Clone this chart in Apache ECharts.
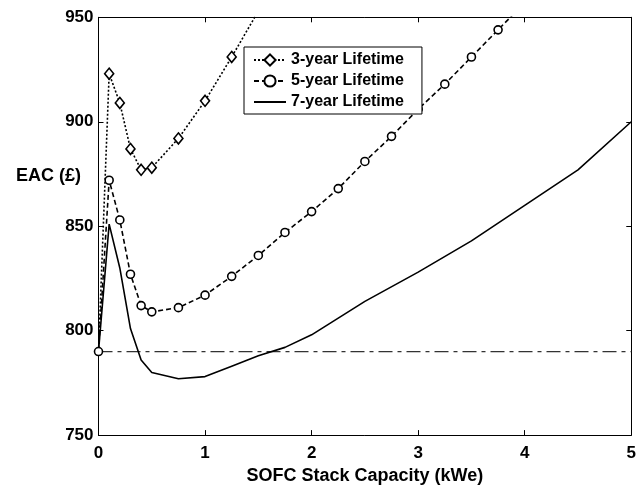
<!DOCTYPE html>
<html>
<head>
<meta charset="utf-8">
<script src="https://cdn.jsdelivr.net/npm/echarts@6/dist/echarts.min.js"></script>
<style>
html,body{margin:0;padding:0;background:#fff;}
#c{width:639px;height:490px;}
</style>
</head>
<body>
<div id="c"></div>
<script>
// Data
var seriesNames = ['3-year Lifetime', '5-year Lifetime', '7-year Lifetime'];
var cap3 = [0, 0.1, 0.2, 0.3, 0.4, 0.5, 0.75, 1.0, 1.25, 1.5];
var eac3 = [790, 923, 909, 887, 877, 878, 892, 910, 931, 953];
var cap5 = [0, 0.1, 0.2, 0.3, 0.4, 0.5, 0.75, 1.0, 1.25, 1.5, 1.75, 2.0, 2.25, 2.5, 2.75, 3.0, 3.25, 3.5, 3.75, 4.0];
var eac5 = [790, 872, 853, 827, 812, 809, 811, 817, 826, 836, 847, 857, 868, 881, 893, 906, 918, 931, 944, 957];
var cap7 = [0, 0.1, 0.2, 0.3, 0.4, 0.5, 0.75, 1.0, 1.25, 1.5, 1.75, 2.0, 2.5, 3.0, 3.5, 4.0, 4.5, 5.0];
var eac7 = [790, 851, 830, 801, 786, 780, 777, 778, 783, 788, 792, 798, 814, 828, 843, 860, 877, 900];
var refCap = [0, 5];
var refEac = [790, 790];
var xTicks = [0, 1, 2, 3, 4, 5];
var yTicks = [750, 800, 850, 900, 950];

function pairs(xs, ys) { return xs.map(function (x, i) { return [x, ys[i]]; }); }

var FONT = '"Liberation Sans", Arial, Helvetica, sans-serif';
var chart = echarts.init(document.getElementById('c'), null, { renderer: 'canvas' });

var baseX = {
  type: 'value', min: xTicks[0], max: xTicks[xTicks.length - 1], interval: 1,
  axisLine: { show: true, onZero: false, lineStyle: { color: '#000', width: 1 } },
  axisTick: { show: true, inside: true, length: 5, lineStyle: { color: '#000' } },
  splitLine: { show: false }
};
var baseY = {
  type: 'value', min: yTicks[0], max: yTicks[yTicks.length - 1], interval: 50,
  axisLine: { show: true, onZero: false, lineStyle: { color: '#000', width: 1 } },
  axisTick: { show: true, inside: true, length: 5, lineStyle: { color: '#000' } },
  splitLine: { show: false }
};

var s3data = pairs(cap3, eac3).map(function (p, i) {
  return i === 0 ? { value: p, symbol: 'none' } : p;
});

chart.setOption({
  animation: false,
  backgroundColor: '#fff',
  textStyle: { fontFamily: FONT },
  grid: { left: 98.5, right: 7.5, top: 17.3, bottom: 52.7, containLabel: false },
  xAxis: [
    Object.assign({}, baseX, {
      position: 'bottom',
      name: 'SOFC Stack Capacity (kWe)', nameLocation: 'middle', nameGap: 28,
      nameTextStyle: { fontFamily: FONT, fontWeight: 'bold', fontSize: 18, color: '#000' },
      axisLabel: { show: true, margin: 10, fontFamily: FONT, fontWeight: 'bold', fontSize: 17, color: '#000' }
    }),
    Object.assign({}, baseX, { position: 'top', axisLabel: { show: false } })
  ],
  yAxis: [
    Object.assign({}, baseY, {
      position: 'left',
      axisLabel: { show: true, margin: 5, fontFamily: FONT, fontWeight: 'bold', fontSize: 17, color: '#000' }
    }),
    Object.assign({}, baseY, { position: 'right', axisLabel: { show: false } })
  ],
  graphic: [{
    type: 'text', left: 16, top: 167,
    style: { text: 'EAC (£)', fontFamily: FONT, fontWeight: 'bold', fontSize: 18, fill: '#000' }
  }],
  legend: {
    orient: 'vertical', left: 244, top: 47,
    padding: [5, 18, 4, 9],
    itemWidth: 32, itemHeight: 14, itemGap: 5,
    backgroundColor: '#fff', borderColor: '#000', borderWidth: 1, borderRadius: 0,
    data: [
      { name: seriesNames[0] },
      { name: seriesNames[1] },
      { name: seriesNames[2], itemStyle: { opacity: 0 } }
    ],
    textStyle: { fontFamily: FONT, fontWeight: 'bold', fontSize: 16, color: '#000' }
  },
  series: [
    {
      name: seriesNames[0], type: 'line', data: s3data,
      symbol: 'diamond', symbolSize: [9, 11], showAllSymbol: true,
      lineStyle: { color: '#000', width: 1.6, type: [2, 2] },
      itemStyle: { color: '#fff', borderColor: '#000', borderWidth: 1.6 },
      z: 3
    },
    {
      name: seriesNames[1], type: 'line', data: pairs(cap5, eac5),
      symbol: 'circle', symbolSize: 8, showAllSymbol: true,
      lineStyle: { color: '#000', width: 1.6, type: [5, 3] },
      itemStyle: { color: '#fff', borderColor: '#000', borderWidth: 1.6 },
      z: 3
    },
    {
      name: seriesNames[2], type: 'line', data: pairs(cap7, eac7),
      symbol: 'none', showSymbol: false,
      lineStyle: { color: '#000', width: 1.6, type: 'solid' },
      itemStyle: { color: '#000' },
      z: 3
    },
    {
      name: 'ref', type: 'line', data: pairs(refCap, refEac),
      symbol: 'none', showSymbol: false, silent: true,
      lineStyle: { color: '#333', width: 1.2, type: [14, 5, 4, 5] },
      z: 2
    }
  ]
});
</script>
</body>
</html>
